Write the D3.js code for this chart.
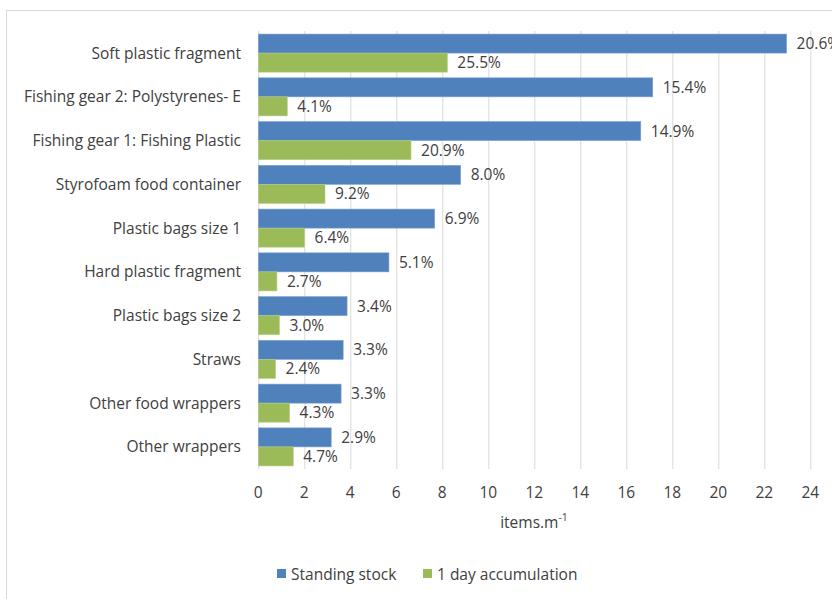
<!DOCTYPE html>
<html><head><meta charset="utf-8">
<script src="https://cdn.jsdelivr.net/npm/d3@7"></script>
<style>html,body{margin:0;padding:0;background:#fff;overflow:hidden}</style>
</head><body>
<svg id="c" width="832" height="599"></svg>
<script>
const categories = ["Soft plastic fragment","Fishing gear 2: Polystyrenes- E","Fishing gear 1: Fishing Plastic","Styrofoam food container","Plastic bags size 1","Hard plastic fragment","Plastic bags size 2","Straws","Other food wrappers","Other wrappers"];
const standingStock = [22.97,17.15,16.63,8.8,7.67,5.68,3.86,3.69,3.6,3.17];
const accumulation = [8.22,1.26,6.64,2.9,2.01,0.81,0.92,0.75,1.36,1.52];
const standingPct = ["20.6%","15.4%","14.9%","8.0%","6.9%","5.1%","3.4%","3.3%","3.3%","2.9%"];
const accumPct = ["25.5%","4.1%","20.9%","9.2%","6.4%","2.7%","3.0%","2.4%","4.3%","4.7%"];
const seriesNames = ["Standing stock","1 day accumulation"];
const xTicks = [0,2,4,6,8,10,12,14,16,18,20,22,24];

const colors = ["#4f81bd","#9bbb59"];
const font = "'Open Sans', sans-serif";
const fs = 15.5;
const txt = "#404040";
const svg = d3.select("#c");

svg.append("rect").attr("x",6.5).attr("y",10.5).attr("width",840).attr("height",600)
  .attr("fill","#fff").attr("stroke","#d9d9d9");

const x = d3.scaleLinear().domain([0,24]).range([258.3,810.3]);
const y = d3.scaleBand().domain(categories).range([31,469]).paddingInner(0.13).paddingOuter(0.07);
const y2 = d3.scaleBand().domain([0,1]).range([0,y.bandwidth()]);

// gridlines
svg.append("g").selectAll("line").data(xTicks).join("line")
  .attr("x1",d=>x(d)+0.5).attr("x2",d=>x(d)+0.5).attr("y1",31).attr("y2",469)
  .attr("stroke","#d9d9d9").attr("stroke-width",1);

const series = [standingStock, accumulation];
const labels = [standingPct, accumPct];
series.forEach((vals,si)=>{
  const g = svg.append("g");
  g.selectAll("rect").data(categories).join("rect")
    .attr("x",x(0)).attr("y",(c)=>y(c)+y2(si))
    .attr("width",(c,i)=>x(vals[i])-x(0)).attr("height",y2.bandwidth())
    .attr("fill",colors[si]).attr("stroke", si===0?"#7fa2d0":"#b5cd85").attr("stroke-width",0.6);
  g.selectAll("text").data(categories).join("text")
    .attr("x",(c,i)=>x(vals[i])+10).attr("y",(c)=>y(c)+y2(si)+y2.bandwidth()/2)
    .attr("dy","0.36em").attr("font-family",font).attr("font-size",fs).attr("fill",txt)
    .text((c,i)=>labels[si][i]);
});

// category labels
svg.append("g").selectAll("text").data(categories).join("text")
  .attr("x",241).attr("y",c=>y(c)+y.bandwidth()/2).attr("dy","0.36em")
  .attr("text-anchor","end").attr("font-family",font).attr("font-size",fs).attr("fill",txt)
  .text(c=>c);

// x axis tick labels
svg.append("g").selectAll("text").data(xTicks).join("text")
  .attr("x",d=>x(d)).attr("y",492).attr("dy","0.36em").attr("text-anchor","middle")
  .attr("font-family",font).attr("font-size",fs).attr("fill",txt).text(d=>d);

// axis title
const t = svg.append("text").attr("x",534).attr("y",528).attr("text-anchor","middle")
  .attr("font-family",font).attr("font-size",fs).attr("fill",txt);
t.append("tspan").text("items.m");
t.append("tspan").attr("dy",-7).attr("font-size",10.5).text("-1");

// legend
const lg = svg.append("g");
const lx = [277,423];
seriesNames.forEach((n,i)=>{
  lg.append("rect").attr("x",lx[i]).attr("y",569).attr("width",9).attr("height",9).attr("fill",colors[i]);
  lg.append("text").attr("x",lx[i]+14).attr("y",574).attr("dy","0.36em")
    .attr("font-family",font).attr("font-size",fs).attr("fill",txt).text(n);
});
</script>
</body></html>
